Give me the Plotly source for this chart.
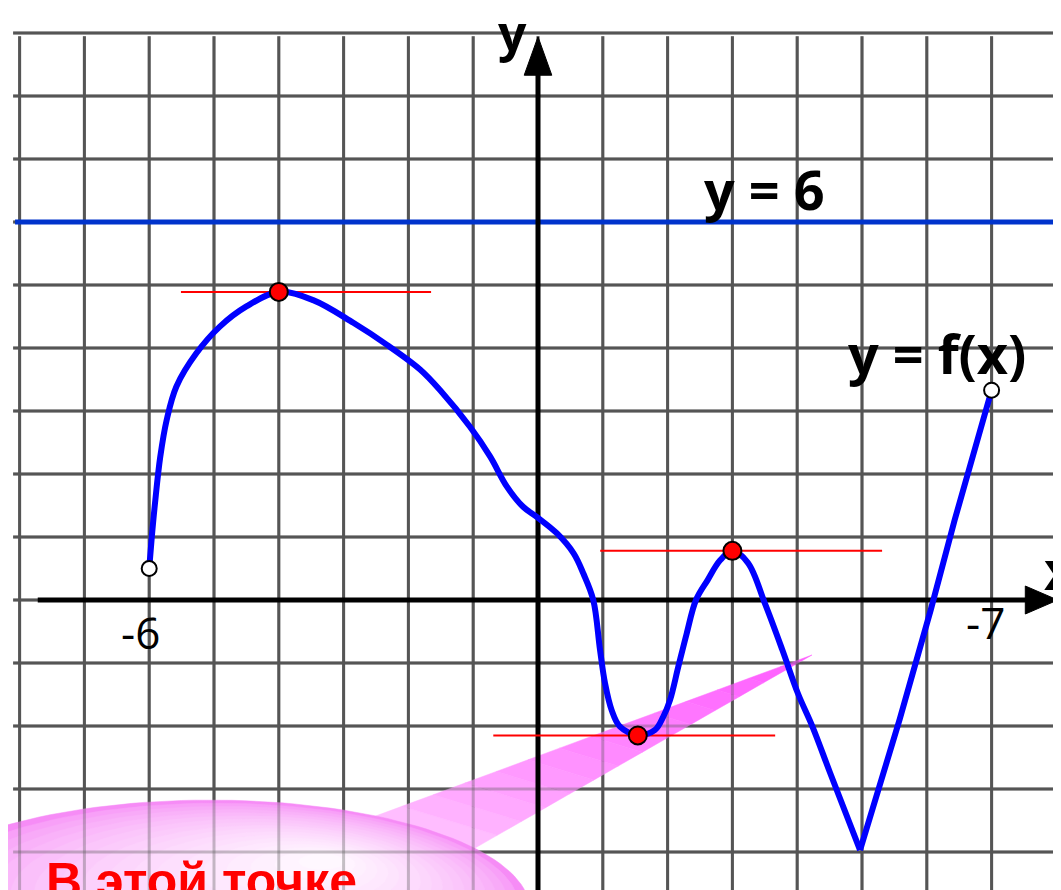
import numpy as np
import plotly.graph_objects as go

# f(x) in grid units (smooth part up to the V corner)
curve_x = [-6.0, -5.96, -5.91, -5.83, -5.73, -5.58, -5.27, -4.91, -4.50, -4.0,
           -3.47, -2.85, -2.33, -1.82, -1.51, -1.05, -0.74, -0.48, -0.23, -0.02,
           0.29, 0.55, 0.70, 0.853, 0.957, 1.034, 1.137, 1.265, 1.54, 1.806,
           1.934, 2.037, 2.165, 2.295, 2.438, 2.62, 2.81, 3.0, 3.24, 3.5,
           3.77, 4.01, 4.24, 4.51, 4.97]
curve_y = [0.5, 1.00, 1.54, 2.27, 2.86, 3.39, 3.92, 4.34, 4.66, 4.89,
           4.76, 4.40, 4.05, 3.66, 3.33, 2.75, 2.28, 1.80, 1.48, 1.32,
           1.06, 0.74, 0.42, 0.0, -0.79, -1.32, -1.75, -2.01, -2.14, -2.06,
           -1.85, -1.59, -1.06, -0.53, 0.0, 0.32, 0.63, 0.78, 0.59, -0.05,
           -0.79, -1.48, -2.02, -2.75, -3.97]

# straight branch from the V corner to the right end
branch_x = [4.97, 5.58, 6.06, 6.43, 7.0]
branch_y = [-3.97, -1.90, -0.16, 1.27, 3.33]

# open ends of the domain
open_x = [-6.0, 7.0]
open_y = [0.5, 3.33]

# extrema with their horizontal tangents
ext_x = [-4.0, 1.54, 3.0]
ext_y = [4.89, -2.15, 0.78]
tangent_x0 = [-5.51, -0.69, 0.96]
tangent_x1 = [-1.65, 3.66, 5.31]

level_y = 6

grid_x = list(range(-8, 9))
grid_y = list(range(-4, 10))
tick_x = [-6, 7]
tick_labels = ["-6", "-7"]

# the page keeps an 8px body margin, so the figure is 8px smaller and the ranges are shifted
X_RANGE = [-8.179, 8.071]
Y_RANGE = [-4.603, 9.397]

GRID = "#555555"
CURVE = "#0000ff"
LEVEL = "#0033cc"
FONT = "Open Sans"


def ellipse(cx, cy, a, b, n=160):
    t = np.linspace(0, 2 * np.pi, n)
    return cx + a * np.cos(t), cy + b * np.sin(t)


def mix(c0, c1, t):
    r, g, b = (round(c0[i] + (c1[i] - c0[i]) * t) for i in range(3))
    return f"rgb({r},{g},{b})"


fig = go.Figure()

# grid
gx, gy = [], []
for x in grid_x:
    gx += [x, x, None]
    gy += [Y_RANGE[0] - 0.2, 8.95, None]
for y in grid_y:
    gx += [-8.1, 8.0, None]
    gy += [y, y, None]
fig.add_trace(go.Scatter(x=gx, y=gy, mode="lines", line=dict(color=GRID, width=3),
                         hoverinfo="skip"))

# speech bubble: tail first, then the ellipse with a soft radial shading
bub_c = (-5.062, -4.921)
bub_a, bub_b = 4.938, 1.746
tail_p1 = np.array([-2.546, -3.444])
tail_p2 = np.array([-0.972, -3.937])
tail_tip = np.array([4.228, -0.873])

n_strips = 16
for j in range(n_strips):
    u0 = -0.15 + (1.15 * j / n_strips)
    u1 = -0.15 + (1.15 * (j + 1) / n_strips)
    a0 = tail_p1 + (tail_tip - tail_p1) * u0
    a1 = tail_p1 + (tail_tip - tail_p1) * u1
    b0 = tail_p2 + (tail_tip - tail_p2) * u0
    b1 = tail_p2 + (tail_tip - tail_p2) * u1
    t = max(0.0, (u0 + u1) / 2)
    col = mix((255, 195, 255), (255, 90, 255), t ** 0.8)
    fig.add_trace(go.Scatter(
        x=[a0[0], a1[0], b1[0], b0[0], a0[0]],
        y=[a0[1], a1[1], b1[1], b0[1], a0[1]],
        mode="lines", fill="toself", line=dict(width=0.5, color=col),
        fillcolor=col, hoverinfo="skip"))

hl = np.array([-3.21, -4.095])
n_layers = 18
for k in range(n_layers):
    t = k / (n_layers - 1)
    s = 1 - 0.93 * t
    cx = hl[0] + (bub_c[0] - hl[0]) * s
    cy = hl[1] + (bub_c[1] - hl[1]) * s
    ex, ey = ellipse(cx, cy, bub_a * s, bub_b * s)
    col = mix((246, 140, 246), (255, 248, 255), t ** 0.6)
    fig.add_trace(go.Scatter(x=ex, y=ey, mode="lines", fill="toself",
                             line=dict(width=0.5, color=col), fillcolor=col, hoverinfo="skip"))

# grid seen through the bubble
fig.add_trace(go.Scatter(x=gx, y=gy, mode="lines", line=dict(color="rgba(85,85,85,0.35)", width=3),
                         hoverinfo="skip"))

# y = 6
fig.add_trace(go.Scatter(x=[-8.07, X_RANGE[1]], y=[level_y, level_y], mode="lines",
                         line=dict(color=LEVEL, width=5), hoverinfo="skip"))

# axes with arrow heads
fig.add_trace(go.Scatter(x=[-7.72, 7.6, None, 0, 0], y=[0, 0, None, Y_RANGE[0] - 0.2, 8.4],
                         mode="lines", line=dict(color="black", width=5), hoverinfo="skip"))
fig.add_trace(go.Scatter(x=[7.52, 8.02, 7.52, 7.52], y=[0.222, 0, -0.222, 0.222], mode="lines",
                         fill="toself", fillcolor="black", line=dict(color="black", width=1),
                         hoverinfo="skip"))
fig.add_trace(go.Scatter(x=[-0.213, 0, 0.213, -0.213], y=[8.33, 8.94, 8.33, 8.33], mode="lines",
                         fill="toself", fillcolor="black", line=dict(color="black", width=1),
                         hoverinfo="skip"))

# tangents
tx, ty = [], []
for x0, x1, y in zip(tangent_x0, tangent_x1, ext_y):
    tx += [x0, x1, None]
    ty += [y, y, None]
fig.add_trace(go.Scatter(x=tx, y=ty, mode="lines", line=dict(color="#ff0000", width=2),
                         hoverinfo="skip"))

# f(x)
fig.add_trace(go.Scatter(x=curve_x, y=curve_y, mode="lines",
                         line=dict(color=CURVE, width=6, shape="spline", smoothing=1.0)))
fig.add_trace(go.Scatter(x=branch_x, y=branch_y, mode="lines",
                         line=dict(color=CURVE, width=6)))

fig.add_trace(go.Scatter(x=ext_x, y=ext_y, mode="markers",
                         marker=dict(size=18, color="#ff0000", line=dict(color="black", width=2))))
fig.add_trace(go.Scatter(x=open_x, y=open_y, mode="markers",
                         marker=dict(size=15, color="white", line=dict(color="black", width=2))))

# texts
big = dict(family=FONT, size=54, color="black", weight="bold")
fig.add_annotation(x=3.49, y=6.52, text="y = 6", showarrow=False, font=big)
fig.add_annotation(x=6.16, y=3.92, text="y = f(x)", showarrow=False, font=big)
fig.add_annotation(x=-0.386, y=9.02, text="y", showarrow=False,
                   font=dict(family=FONT, size=50, color="black", weight="bold"))
fig.add_annotation(x=8.05, y=0.5, text="x", showarrow=False,
                   font=dict(family=FONT, size=54, color="black", weight="bold"))
for x, lab, dx, dy in zip(tick_x, tick_labels, [-0.14, -0.1], [-0.5, -0.35]):
    fig.add_annotation(x=x + dx, y=dy, text=lab, showarrow=False,
                       font=dict(family=FONT, size=44, color="black"))
fig.add_annotation(x=-7.63, y=-4.46, xanchor="left", text="В этой точке", showarrow=False,
                   font=dict(family="Liberation Sans", size=50, color="#ff0000", weight="bold"))

fig.update_layout(
    width=1053,
    height=882,
    margin=dict(l=0, r=0, t=0, b=0),
    paper_bgcolor="white",
    plot_bgcolor="white",
    showlegend=False,
    xaxis=dict(range=X_RANGE, visible=False, fixedrange=True),
    yaxis=dict(range=Y_RANGE, visible=False, fixedrange=True),
)

fig.write_html("out.html")
